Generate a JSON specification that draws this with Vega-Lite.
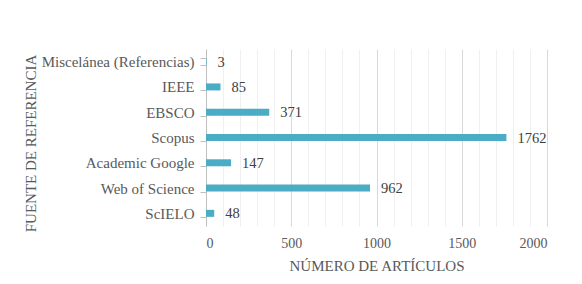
{
  "$schema": "https://vega.github.io/schema/vega-lite/v6.json",
  "autosize": {"type": "none"},
  "padding": {"left": 206, "top": 49, "right": 35, "bottom": 58},
  "width": 341,
  "height": 177,
  "background": "white",
  "data": {"values": [
    {"fuente": "Miscelánea (Referencias)", "n": 3},
    {"fuente": "IEEE", "n": 85},
    {"fuente": "EBSCO", "n": 371},
    {"fuente": "Scopus", "n": 1762},
    {"fuente": "Academic Google", "n": 147},
    {"fuente": "Web of Science", "n": 962},
    {"fuente": "ScIELO", "n": 48}
  ]},
  "encoding": {
    "y": {
      "field": "fuente", "type": "nominal", "sort": null,
      "scale": {"paddingInner": 0.72, "paddingOuter": 0.36},
      "axis": {
        "title": "FUENTE DE REFERENCIA",
        "tickBand": "extent",
        "tickSize": 6,
        "tickColor": "#bfbfbf",
        "domainColor": "#bfbfbf",
        "labelPadding": 6,
        "labelFontSize": 15,
        "titlePadding": 3,
        "titleY": 94,
        "grid": false
      }
    },
    "x": {
      "field": "n", "type": "quantitative",
      "scale": {"domain": [0, 2000], "nice": false},
      "axis": {
        "title": "NÚMERO DE ARTÍCULOS",
        "values": [0,100,200,300,400,500,600,700,800,900,1000,1100,1200,1300,1400,1500,1600,1700,1800,1900,2000],
        "labelExpr": "datum.value % 500 === 0 ? datum.label : ''",
        "format": "d",
        "labelFontSize": 14,
        "grid": true,
        "gridColor": {"condition": {"test": "datum.value % 500 === 0 && datum.value > 0", "value": "#d9d9d9"}, "value": "#f0f0f0"},
        "gridOpacity": 1,
        "ticks": false,
        "domain": false,
        "labelPadding": 10,
        "titlePadding": 8
      }
    }
  },
  "layer": [
    {"mark": {"type": "bar", "color": "#4bacc6", "size": 7}},
    {"mark": {"type": "text", "align": "left", "baseline": "middle", "dx": 11, "dy": 1, "font": "Liberation Serif", "fontSize": 14.5, "color": "#404040"},
     "encoding": {"text": {"field": "n", "type": "quantitative"}}}
  ],
  "config": {
    "view": {"stroke": null},
    "axis": {
      "labelFont": "Liberation Serif",
      "labelColor": "#595959",
      "titleFont": "Liberation Serif",
      "titleFontSize": 15,
      "titleFontWeight": "normal",
      "titleColor": "#595959"
    }
  }
}
